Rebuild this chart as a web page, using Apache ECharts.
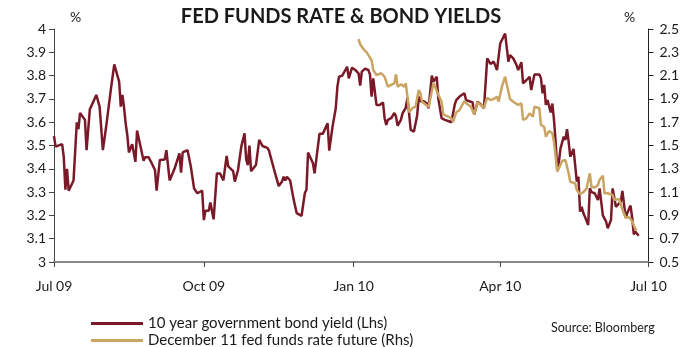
<!DOCTYPE html>
<html>
<head>
<meta charset="utf-8">
<script src="https://cdn.jsdelivr.net/npm/echarts@6/dist/echarts.min.js"></script>
<style>
html,body{margin:0;padding:0;background:#fff;}
#chart{width:682px;height:347px;}
</style>
</head>
<body>
<div id="chart"></div>
<script>
// ---- Data ----
const bondDates = [
'2009-07-01','2009-07-02','2009-07-06','2009-07-07','2009-07-08','2009-07-09','2009-07-10','2009-07-11','2009-07-13','2009-07-15',
'2009-07-16','2009-07-17','2009-07-20','2009-07-21','2009-07-23','2009-07-24','2009-07-27','2009-07-29','2009-07-31','2009-08-02',
'2009-08-05','2009-08-06','2009-08-07','2009-08-10','2009-08-11','2009-08-12','2009-08-13','2009-08-14','2009-08-15','2009-08-16',
'2009-08-18','2009-08-20','2009-08-21','2009-08-23','2009-08-25','2009-08-26','2009-08-28','2009-08-30','2009-09-01','2009-09-02',
'2009-09-04','2009-09-07','2009-09-08','2009-09-09','2009-09-10','2009-09-11','2009-09-13','2009-09-16','2009-09-17','2009-09-18',
'2009-09-21','2009-09-23','2009-09-25','2009-09-27','2009-09-28','2009-09-30','2009-10-01','2009-10-02','2009-10-04','2009-10-05',
'2009-10-07','2009-10-09','2009-10-11','2009-10-13','2009-10-15','2009-10-16','2009-10-19','2009-10-20','2009-10-22','2009-10-24',
'2009-10-26','2009-10-27','2009-10-28','2009-10-29','2009-10-30','2009-11-02','2009-11-04','2009-11-05','2009-11-06','2009-11-09',
'2009-11-10','2009-11-13','2009-11-16','2009-11-18','2009-11-19','2009-11-20','2009-11-21','2009-11-23','2009-11-25','2009-11-26',
'2009-11-27','2009-11-30','2009-12-02','2009-12-03','2009-12-04','2009-12-07','2009-12-08','2009-12-11','2009-12-13','2009-12-16',
'2009-12-17','2009-12-19','2009-12-21','2009-12-22','2009-12-23','2009-12-25','2009-12-28','2009-12-29','2009-12-31','2010-01-02',
'2010-01-04','2010-01-05','2010-01-06','2010-01-08','2010-01-10','2010-01-11','2010-01-12','2010-01-13','2010-01-15','2010-01-17',
'2010-01-19','2010-01-20','2010-01-21','2010-01-22','2010-01-24','2010-01-26','2010-01-27','2010-01-28','2010-01-30','2010-01-31',
'2010-02-02','2010-02-03','2010-02-04','2010-02-05','2010-02-07','2010-02-09','2010-02-10','2010-02-11','2010-02-13','2010-02-15',
'2010-02-16','2010-02-18','2010-02-19','2010-02-21','2010-02-22','2010-02-24','2010-02-26','2010-02-28','2010-03-02','2010-03-04',
'2010-03-05','2010-03-07','2010-03-10','2010-03-11','2010-03-13','2010-03-15','2010-03-16','2010-03-17','2010-03-18','2010-03-20',
'2010-03-22','2010-03-24','2010-03-25','2010-03-26','2010-03-28','2010-03-30','2010-04-01','2010-04-03','2010-04-04','2010-04-06',
'2010-04-07','2010-04-09','2010-04-11','2010-04-12','2010-04-14','2010-04-15','2010-04-17','2010-04-19','2010-04-20','2010-04-22',
'2010-04-25','2010-04-26','2010-04-27','2010-04-28','2010-04-29','2010-04-30','2010-05-02','2010-05-03','2010-05-04','2010-05-05',
'2010-05-06','2010-05-07','2010-05-08','2010-05-10','2010-05-11','2010-05-12','2010-05-13','2010-05-14','2010-05-16','2010-05-18',
'2010-05-19','2010-05-20','2010-05-21','2010-05-22','2010-05-23','2010-05-25','2010-05-26','2010-05-27','2010-05-29','2010-05-30',
'2010-05-31','2010-06-01','2010-06-03','2010-06-05','2010-06-06','2010-06-08','2010-06-09','2010-06-11','2010-06-12','2010-06-14',
'2010-06-15','2010-06-17','2010-06-18','2010-06-19','2010-06-20','2010-06-21','2010-06-22','2010-06-23','2010-06-25'
];
const bondYield = [
3.54,3.495,3.506,3.45,3.31,3.40,3.306,3.30,3.35,3.60,
3.57,3.64,3.61,3.48,3.655,3.66,3.717,3.667,3.48,3.58,
3.745,3.75,3.848,3.774,3.667,3.717,3.664,3.595,3.545,3.47,
3.506,3.43,3.564,3.50,3.435,3.45,3.45,3.424,3.395,3.306,
3.438,3.44,3.48,3.473,3.35,3.35,3.40,3.466,3.383,3.47,
3.48,3.41,3.316,3.295,3.288,3.306,3.18,3.22,3.22,3.255,
3.183,3.38,3.38,3.35,3.455,3.41,3.39,3.345,3.395,3.495,
3.552,3.44,3.416,3.50,3.39,3.416,3.524,3.524,3.498,3.49,
3.478,3.40,3.326,3.345,3.366,3.35,3.366,3.35,3.273,3.266,
3.21,3.198,3.295,3.31,3.47,3.424,3.38,3.55,3.55,3.595,
3.478,3.58,3.66,3.752,3.795,3.80,3.838,3.788,3.834,3.824,
3.81,3.757,3.817,3.83,3.824,3.805,3.71,3.788,3.674,3.674,
3.685,3.617,3.588,3.61,3.617,3.64,3.624,3.585,3.61,3.638,
3.662,3.705,3.64,3.567,3.56,3.63,3.71,3.69,3.69,3.68,
3.66,3.80,3.774,3.795,3.70,3.617,3.61,3.605,3.60,3.674,
3.695,3.71,3.724,3.695,3.69,3.685,3.634,3.657,3.688,3.677,
3.66,3.874,3.867,3.85,3.86,3.824,3.938,3.967,3.98,3.86,
3.888,3.874,3.845,3.824,3.857,3.767,3.78,3.795,3.738,3.805,
3.805,3.788,3.724,3.76,3.674,3.695,3.642,3.68,3.61,3.516,
3.395,3.43,3.488,3.538,3.524,3.57,3.516,3.452,3.485,3.345,
3.366,3.216,3.237,3.21,3.194,3.159,3.316,3.30,3.295,3.29,
3.266,3.316,3.20,3.173,3.145,3.18,3.316,3.237,3.245,3.259,
3.305,3.19,3.21,3.227,3.242,3.19,3.119,3.13,3.113
];
const futureDates = [
'2010-01-04','2010-01-05','2010-01-06','2010-01-07','2010-01-09','2010-01-11','2010-01-12','2010-01-13','2010-01-14','2010-01-15',
'2010-01-18','2010-01-20','2010-01-22','2010-01-24','2010-01-26','2010-01-27','2010-01-28','2010-01-30','2010-02-01','2010-02-02',
'2010-02-03','2010-02-04','2010-02-06','2010-02-08','2010-02-09','2010-02-10','2010-02-11','2010-02-12','2010-02-13','2010-02-16',
'2010-02-19','2010-02-20','2010-02-22','2010-02-24','2010-02-25','2010-02-28','2010-03-02','2010-03-03','2010-03-05','2010-03-07',
'2010-03-08','2010-03-10','2010-03-11','2010-03-14','2010-03-16','2010-03-18','2010-03-20','2010-03-22','2010-03-24','2010-03-26',
'2010-03-28','2010-03-30','2010-03-31','2010-04-02','2010-04-04','2010-04-05','2010-04-07','2010-04-09','2010-04-12','2010-04-14',
'2010-04-15','2010-04-17','2010-04-19','2010-04-21','2010-04-22','2010-04-25','2010-04-26','2010-04-28','2010-04-29','2010-05-01',
'2010-05-03','2010-05-04','2010-05-05','2010-05-06','2010-05-07','2010-05-09','2010-05-11','2010-05-13','2010-05-14','2010-05-17',
'2010-05-18','2010-05-20','2010-05-22','2010-05-24','2010-05-26','2010-05-27','2010-05-29','2010-05-31','2010-06-01','2010-06-03',
'2010-06-04','2010-06-06','2010-06-09','2010-06-10','2010-06-13','2010-06-14','2010-06-15','2010-06-17','2010-06-19','2010-06-20',
'2010-06-21','2010-06-23','2010-06-24'
];
const futureRate = [
2.414,2.369,2.386,2.328,2.30,2.254,2.234,2.148,2.134,2.105,
2.12,2.09,2.005,2.02,2.034,2.111,2.005,2.025,2.005,2.034,
1.919,1.785,1.82,1.833,1.91,1.976,1.948,1.876,1.87,1.83,
2.034,2.005,1.934,1.876,1.768,1.747,1.733,1.704,1.785,1.805,
1.82,1.882,1.862,1.833,1.768,1.871,1.848,1.824,1.91,1.89,
1.899,1.919,1.876,2.005,2.091,2.025,1.899,1.876,1.848,1.862,
1.719,1.733,1.776,1.747,1.833,1.82,1.676,1.66,1.575,1.625,
1.605,1.533,1.404,1.275,1.304,1.367,1.376,1.261,1.189,1.175,
1.118,1.081,1.10,1.13,1.261,1.146,1.14,1.161,1.204,1.241,
1.09,1.09,1.075,1.032,1.04,1.03,0.95,0.88,0.885,0.88,
0.85,0.78,0.78
];
const tickDates = ['2009-07-01','2009-10-01','2010-01-01','2010-04-01','2010-07-01'];
const tickLabels = ['Jul 09','Oct 09','Jan 10','Apr 10','Jul 10'];
const seriesNames = ['10 year government bond yield (Lhs)','December 11 fed funds rate future (Rhs)'];

// ---- Chart ----
const FONT = 'Lato';
const toTs = s => { const p = s.split('-').map(Number); return Date.UTC(p[0], p[1]-1, p[2]); };
const tickTs = tickDates.map(toTs);
const RED = '#7a1a28', GOLD = '#c9a462', TXT = '#1a1a1a';

const legendBase = {
  orient: 'vertical', left: 86, itemWidth: 52, itemHeight: 3,
  icon: 'rect', textStyle: {fontSize: 15, color: TXT, fontFamily: FONT}
};

const chart = echarts.init(document.getElementById('chart'), null, {renderer:'canvas'});
chart.setOption({
  animation: false,
  backgroundColor: '#fff',
  textStyle: {fontFamily: FONT},
  grid: {left: 54, right: 25, top: 29, bottom: 85, containLabel: false},
  legend: [
    Object.assign({}, legendBase, {top: 311, data: [seriesNames[0]]}),
    Object.assign({}, legendBase, {top: 328, data: [seriesNames[1]]})
  ],
  xAxis: {
    type: 'value', min: tickTs[0], max: tickTs[tickTs.length-1],
    axisLine: {show: true, lineStyle: {color: '#888', width: 2}},
    axisTick: {show: true, customValues: tickTs, length: 5, lineStyle: {color: '#444', width: 1}},
    axisLabel: {
      customValues: tickTs, margin: 17, fontSize: 14, color: TXT, fontFamily: FONT,
      formatter: v => { let best = 0; tickTs.forEach((t,i)=>{ if (Math.abs(t-v) < Math.abs(tickTs[best]-v)) best = i; }); return tickLabels[best]; }
    },
    splitLine: {show: false}
  },
  yAxis: [
    {
      type: 'value', min: 3, max: 4, interval: 0.1, position: 'left',
      axisLine: {show: true, lineStyle: {color: '#444', width: 1}},
      axisTick: {show: true, length: 5, lineStyle: {color: '#444'}},
      axisLabel: {margin: 8, fontSize: 14, color: TXT, fontFamily: FONT},
      splitLine: {show: false}
    },
    {
      type: 'value', min: 0.5, max: 2.5, interval: 0.2, position: 'right',
      axisLine: {show: true, lineStyle: {color: '#222', width: 1}},
      axisTick: {show: true, length: 5, lineStyle: {color: '#222'}},
      axisLabel: {margin: 11, fontSize: 14, color: TXT, fontFamily: FONT, formatter: v => String(+v.toFixed(1))},
      splitLine: {show: false}
    }
  ],
  series: [
    {
      name: seriesNames[0], type: 'line', yAxisIndex: 0, showSymbol: false, symbol: 'none',
      lineStyle: {color: RED, width: 2.5}, itemStyle: {color: RED},
      data: bondDates.map((d,i) => [toTs(d), bondYield[i]]), z: 2
    },
    {
      name: seriesNames[1], type: 'line', yAxisIndex: 1, showSymbol: false, symbol: 'none',
      lineStyle: {color: GOLD, width: 2.5}, itemStyle: {color: GOLD},
      data: futureDates.map((d,i) => [toTs(d), futureRate[i]]), z: 3
    }
  ],
  graphic: [
    {type: 'text', left: 'center', top: 7, style: {text: 'FED FUNDS RATE & BOND YIELDS', font: 'bold 20px ' + FONT, fill: TXT}},
    {type: 'text', left: 70, top: 10, style: {text: '%', font: '14px ' + FONT, fill: TXT}},
    {type: 'text', left: 624, top: 10, style: {text: '%', font: '14px ' + FONT, fill: TXT}},
    {type: 'text', left: 551, top: 321, style: {text: 'Source: Bloomberg', font: '12.5px ' + FONT, fill: TXT}}
  ]
});
</script>
</body>
</html>
